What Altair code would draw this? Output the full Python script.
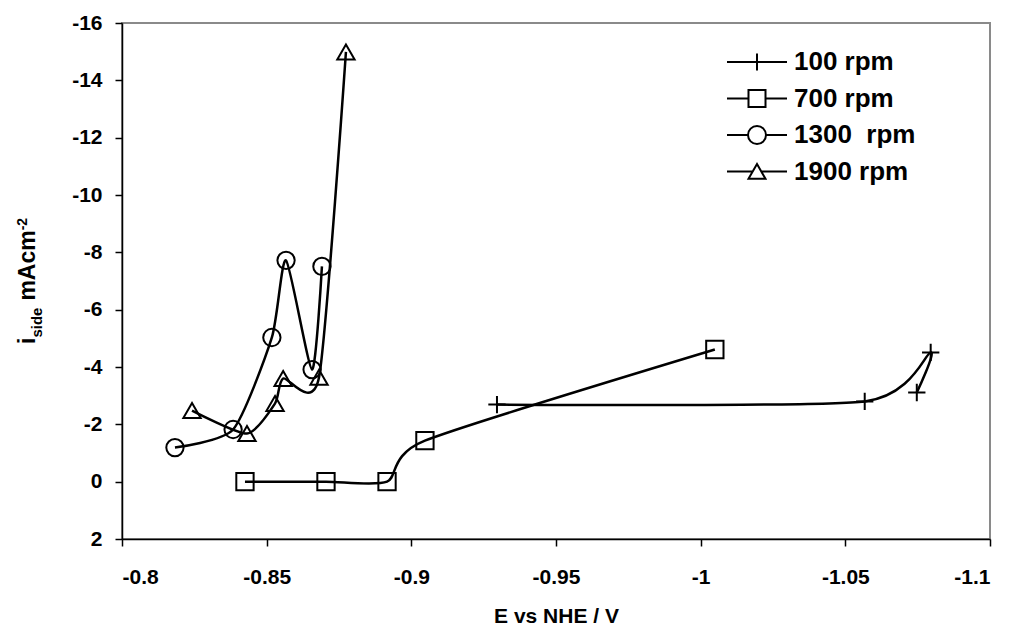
import altair as alt
import pandas as pd

# ---- data ----
series_names = ["100 rpm", "700 rpm", "1300\u00a0 rpm", "1900 rpm"]

e_100 = [-0.9296, -1.0567, -1.0795, -1.0747]
i_100 = [-2.69, -2.80, -4.51, -3.11]

e_700 = [-0.8425, -0.8705, -0.8916, -0.9047, -1.0049]
i_700 = [0.0, 0.0, 0.0, -1.43, -4.61]

e_1300 = [-0.8183, -0.8384, -0.8518, -0.8567, -0.8657, -0.8691]
i_1300 = [-1.19, -1.82, -5.03, -7.72, -3.91, -7.51]

e_1900 = [-0.8242, -0.8432, -0.8529, -0.8557, -0.8681, -0.8774]
i_1900 = [-2.48, -1.68, -2.73, -3.60, -3.64, -14.99]

x_ticks = [-0.8, -0.85, -0.9, -0.95, -1.0, -1.05, -1.1]
y_ticks = [-16, -14, -12, -10, -8, -6, -4, -2, 0, 2]

rows = []
for name, xs, ys in zip(series_names,
                        [e_100, e_700, e_1300, e_1900],
                        [i_100, i_700, i_1300, i_1900]):
    for k, (xv, yv) in enumerate(zip(xs, ys)):
        rows.append({"series": name, "idx": k, "E": xv, "i": yv})
df = pd.DataFrame(rows)

FONT = "Liberation Sans"

point_shapes = [
    "M-1,0H1M0,-1V1",
    "square",
    "circle",
    "triangle-up",
]
legend_shapes = [
    "M-2,0H2M0,-0.567V0.567",
    "M-2,0H-0.567M0.567,0H2M-0.567,-0.567H0.567V0.567H-0.567Z",
    "M-2,0H-0.6M0.6,0H2M-0.6,0A0.6,0.6,0,1,1,0.6,0A0.6,0.6,0,1,1,-0.6,0Z",
    "M-2,0H-0.29M0.29,0H2M0,-0.5L0.567,0.49L-0.567,0.49Z",
]

xenc = alt.X("E:Q",
             scale=alt.Scale(domain=[-1.1, -0.8], reverse=True, nice=False, zero=False),
             axis=alt.Axis(values=x_ticks, labelExpr="'' + datum.value",
                           title="E vs NHE / V", grid=False,
                           labelPadding=20, titlePadding=18))
yenc = alt.Y("i:Q",
             scale=alt.Scale(domain=[-16, 2], reverse=True, nice=False, zero=False),
             axis=alt.Axis(values=y_ticks, labelExpr="'' + datum.value",
                           title=None, grid=False, labelPadding=13))

base = alt.Chart(df)

lines = base.mark_line(color="black", strokeWidth=2.5, interpolate="cardinal", tension=0.35).encode(
    x=xenc, y=yenc, detail="series:N", order="idx:Q"
)

points = base.mark_point(filled=False, color="black", strokeWidth=2, size=300, opacity=1).encode(
    x=xenc, y=yenc,
    shape=alt.Shape("series:N", scale=alt.Scale(domain=series_names, range=point_shapes), legend=None),
)

legend_layer = base.transform_filter("false").mark_point(
    filled=False, color="black", strokeWidth=2, opacity=1
).encode(
    x=xenc, y=yenc,
    shape=alt.Shape("series:N", scale=alt.Scale(domain=series_names, range=legend_shapes),
                    legend=alt.Legend(orient="none", legendX=619, legendY=23, title=None,
                                      labelFont=FONT, labelFontSize=26, labelFontWeight="bold",
                                      labelColor="black", symbolSize=900, symbolStrokeWidth=2,
                                      symbolStrokeColor="black", symbolFillColor="transparent",
                                      rowPadding=7.5, labelOffset=21, padding=0, labelLimit=300)),
)

one = pd.DataFrame({"t": [""]})

def title_part(txt, size, xv, yv):
    return alt.Chart(one).mark_text(
        text=txt, angle=270, align="left", baseline="alphabetic",
        font=FONT, fontSize=size, fontWeight="bold", color="black"
    ).encode(x=alt.value(xv), y=alt.value(yv))

t1 = title_part("i", 23, -87, 321)
t2 = title_part("side", 15, -80, 314.6)
t3 = title_part("mAcm", 23, -87, 277.6)
t4 = title_part("-2", 14, -95, 207.3)

chart = alt.layer(lines, points, legend_layer, t1, t2, t3, t4).resolve_scale(
    shape="independent"
).resolve_legend(shape="independent").properties(
    width=868, height=516,
    autosize=alt.AutoSizeParams(type="none"),
    padding={"left": 122, "top": 23, "right": 21, "bottom": 97},
    background="white",
).configure_view(
    stroke="#8a8a8a", strokeWidth=2
).configure_axis(
    labelFont=FONT, labelFontSize=21, labelFontWeight="bold", labelColor="black",
    titleFont=FONT, titleFontSize=21, titleFontWeight="bold", titleColor="black",
    domainColor="black", domainWidth=1.5, tickColor="black", tickWidth=1.5, tickSize=7,
)

chart.save("out.html", embed_options={"renderer": "svg", "actions": False})
